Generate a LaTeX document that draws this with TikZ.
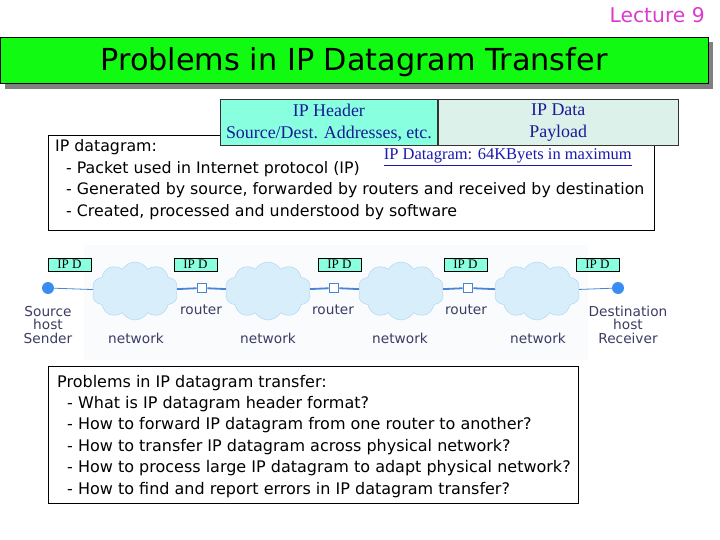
\documentclass[tikz,border=0pt]{standalone}
\usepackage{fontspec}
\setmainfont{DejaVu Sans}
\newfontfamily\timesfont{Liberation Serif}
\usetikzlibrary{shapes.symbols}
\definecolor{lecpink}{HTML}{D93BCF}
\definecolor{titlegreen}{HTML}{11FA11}
\definecolor{shadowgray}{HTML}{808080}
\definecolor{hdrcyan}{HTML}{88FFDF}
\definecolor{datamint}{HTML}{DCF1EA}
\definecolor{hdrtext}{HTML}{1A1A96}
\definecolor{linkblue}{HTML}{1A1AB0}
\definecolor{hostblue}{HTML}{3A8DF0}
\definecolor{wireblue}{HTML}{4A84D4}
\definecolor{cloudfill}{HTML}{D9EEFB}
\definecolor{cloudedge}{HTML}{A8D2F2}
\definecolor{labelgray}{HTML}{3C3C64}
\definecolor{rowback}{HTML}{FAFBFD}

\pgfdeclarelayer{background}
\pgfsetlayers{background,main}

\tikzset{
  txtbox/.style={draw=black,line width=0.8pt,fill=white,inner sep=0pt,anchor=north west},
  hdrcell/.style={draw=black!80,line width=0.8pt,minimum height=46pt,inner sep=0pt,anchor=north west,
    align=center,font=\timesfont\fontsize{17.9}{22}\selectfont,text=hdrtext},
  ipd/.style={draw=black,line width=0.6pt,fill=hdrcyan,minimum width=43pt,minimum height=13pt,inner sep=0pt,
    font=\timesfont\fontsize{13}{13}\selectfont},
  cloudnet/.style={cloud,cloud puffs=10,cloud puff arc=120,aspect=1.5,draw=cloudedge,fill=cloudfill,
    minimum width=86pt,minimum height=58pt,inner sep=0pt},
  host/.style={circle,fill=hostblue,minimum size=12pt,inner sep=0pt},
  router/.style={rectangle,draw=wireblue,line width=1.8pt,fill=white,minimum size=9pt,inner sep=0pt},
  netlabel/.style={font=\fontsize{13.7}{13.5}\selectfont,text=labelgray,align=center,inner sep=0pt,anchor=base},
  wire/.style={wireblue,line width=0.8pt},
  thickwire/.style={wireblue,line width=1.8pt},
}

\begin{document}
\begin{tikzpicture}[x=1pt,y=-1pt]
        \useasboundingbox (0,0) rectangle (720,540);

        % Lecture tag
        \node[anchor=base east,inner sep=0pt,text=lecpink,font=\fontsize{20.3}{20.3}\selectfont] (lecture) at (705,23) {Lecture 9};

        % Title bar with its shadow
        \fill[shadowgray] (5,42) rectangle (713,89);
        \node[draw=black,line width=0.8pt,fill=titlegreen,minimum width=708pt,minimum height=46pt,inner sep=0pt,anchor=north west] (titlebar) at (0,37) {};
        \node[anchor=base,inner sep=0pt,font=\fontsize{30.3}{30.3}\selectfont] (title) at (354,71) {Problems in IP Datagram Transfer};

        % IP datagram box (text anchored on the baseline of its last line)
        \node[txtbox,minimum width=606pt,minimum height=95pt] (dgbox) at (48,135) {};
        \node[anchor=base west,align=left,inner sep=0pt,font=\fontsize{15.8}{21.5}\selectfont] (dgtext) at (55,216.5)
          {IP datagram:\\
           \hspace*{11pt}- Packet used in Internet protocol (IP)\\
           \hspace*{11pt}- Generated by source, forwarded by routers and received by destination\\
           \hspace*{11pt}- Created, processed and understood by software};

        % Header and payload cells
        \node[hdrcell,fill=hdrcyan,minimum width=217pt] (hdr) at (220,99) {IP Header\\Source/Dest. Addresses, etc.};
        \node[hdrcell,fill=datamint,minimum width=240pt] (payload) at (hdr.north east) {IP Data\\Payload};
        \node[anchor=base east,inner sep=0pt,text=linkblue,font=\timesfont\fontsize{16.5}{16.5}\selectfont] (maxsize) at (632,160)
          {\underline{IP Datagram: 64KByets in maximum}};

        % Hosts, networks and routers
        \node[host] (src) at (48,288) {};
        \node[cloudnet] (net1) at (135,291) {};
        \node[router] (r1) at (202,288) {};
        \node[cloudnet] (net2) at (268,291) {};
        \node[router] (r2) at (334,288) {};
        \node[cloudnet] (net3) at (401,291) {};
        \node[router] (r3) at (468,288) {};
        \node[cloudnet] (net4) at (537,291) {};
        \node[host] (dst) at (618,288) {};

        \begin{pgfonlayer}{background}
          \fill[rowback] (84,245) rectangle (588,360);
          \draw[wire] (src) -- (net1);
          \draw[thickwire] (net1) -- (r1) -- (net2) -- (r2) -- (net3) -- (r3) -- (net4);
          \draw[wire] (net4) -- (dst);
        \end{pgfonlayer}

        % IP D tags over the path
        \node[ipd] (ipd1) at (69.5,264.5) {IP D};
        \node[ipd] (ipd2) at (195.5,264.5) {IP D};
        \node[ipd] (ipd3) at (339.5,264.5) {IP D};
        \node[ipd] (ipd4) at (465.5,264.5) {IP D};
        \node[ipd] (ipd5) at (597.5,264.5) {IP D};

        % Labels under the path
        \node[netlabel] (srclbl) at (48,343) {Source\\host\\Sender};
        \node[netlabel] (dstlbl) at (628,343) {Destination\\host\\Receiver};
        \node[netlabel] (r1lbl) at (201,314) {router};
        \node[netlabel] (r2lbl) at (333,314) {router};
        \node[netlabel] (r3lbl) at (466,314) {router};
        \node[netlabel] (net1lbl) at (136,343) {network};
        \node[netlabel] (net2lbl) at (268,343) {network};
        \node[netlabel] (net3lbl) at (400,343) {network};
        \node[netlabel] (net4lbl) at (538,343) {network};

        % Problems box
        \node[txtbox,minimum width=530pt,minimum height=137pt] (qbox) at (48,366) {};
        \node[anchor=base west,align=left,inner sep=0pt,font=\fontsize{16}{21.4}\selectfont] (qtext) at (57,494)
          {Problems in IP datagram transfer:\\
           \hspace*{10pt}- What is IP datagram header format?\\
           \hspace*{10pt}- How to forward IP datagram from one router to another?\\
           \hspace*{10pt}- How to transfer IP datagram across physical network?\\
           \hspace*{10pt}- How to process large IP datagram to adapt physical network?\\
           \hspace*{10pt}- How to find and report errors in IP datagram transfer?};
\end{tikzpicture}
\end{document}
